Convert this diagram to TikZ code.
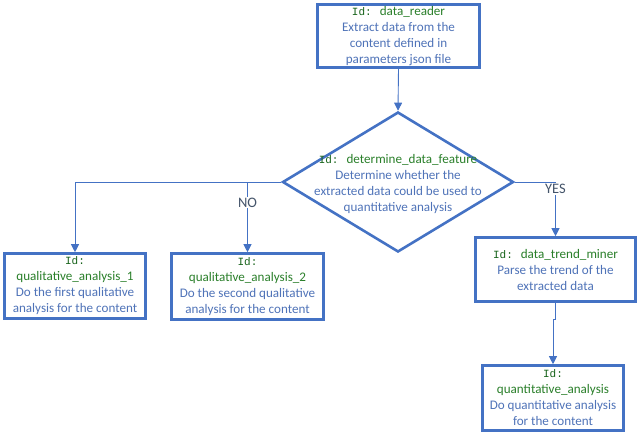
\documentclass[tikz,border=0pt]{standalone}
\usepackage{fontspec}
\usepackage{tikz}
\usepackage{xcolor}
\usetikzlibrary{arrows.meta,positioning,calc,shapes.geometric}
\setmainfont{Carlito}
\setmonofont{Liberation Mono}
\definecolor{flowblue}{HTML}{4472C4}
\definecolor{flowtext}{HTML}{4F73B8}
\definecolor{flowlabel}{HTML}{44546A}
\definecolor{idgreen}{HTML}{17631A}
\definecolor{namegreen}{HTML}{2A7F2A}
\newcommand{\idtag}{{\fontsize{11}{16}\ttfamily\color{idgreen}Id:}}
\newcommand{\idname}[1]{{\color{namegreen}#1}}

\begin{document}
\begin{tikzpicture}[
  x=1pt, y=-1pt,
  font=\fontsize{13.1}{16}\selectfont\color{flowtext},
  stepbox/.style={draw=flowblue, line width=2.6pt, fill=white, align=center, inner sep=0pt},
  decision/.style={draw=flowblue, line width=2.6pt, diamond, inner sep=0pt, minimum width=231, minimum height=140},
  conn/.style={draw=flowblue, line width=0.9pt, -{Triangle[length=8pt,width=8pt]}},
  lbl/.style={fill=white, inner sep=1pt, text=flowlabel, font=\fontsize{14.5}{16}\selectfont}
]
\useasboundingbox (0,0) rectangle (639,437);
% Reader at the top
\node[stepbox, minimum width=162, minimum height=63] (reader) at (398.5,36)
  {\idtag\hspace{8pt}\idname{data\_reader}\\Extract data from the\\content defined in\\parameters json file};
% Decision
\node[decision] (feature) at (398,182) {};
\node[align=center] (featuretext) at (398,184)
  {\idtag\hspace{8pt}\idname{determine\_data\_feature}\\Determine whether the\\extracted data could be used to\\quantitative analysis};
% NO branch
\node[stepbox, minimum width=141, minimum height=65] (qualone) at (75,286)
  {\idtag\\\idname{qualitative\_analysis\_1}\\Do the first qualitative\\analysis for the content};
\node[stepbox, minimum width=152, minimum height=66] (qualtwo) at (247.5,286.5)
  {\idtag\\\idname{qualitative\_analysis\_2}\\Do the second qualitative\\analysis for the content};
% YES branch
\node[stepbox, minimum width=160, minimum height=64] (miner) at (555.5,269.5)
  {\idtag\hspace{8pt}\idname{data\_trend\_miner}\\Parse the trend of the\\extracted data};
\node[stepbox, minimum width=141, minimum height=65] (quant) at (553,398)
  {\idtag\\\idname{quantitative\_analysis}\\Do quantitative analysis\\for the content};
% Connectors
\draw[conn] (reader.south) -- (feature.north);
\draw[conn] (feature.west) -| (qualone.north);
\draw[conn] (feature.west -| qualtwo.north) -- node[lbl, pos=0.29] {NO} (qualtwo.north);
\draw[conn] (feature.east) -| node[lbl, pos=0.5, yshift=-7pt] {YES} (miner.north);
\draw[conn] (miner.south) -- ++(0,17) -| (quant.north);
\end{tikzpicture}
\end{document}
